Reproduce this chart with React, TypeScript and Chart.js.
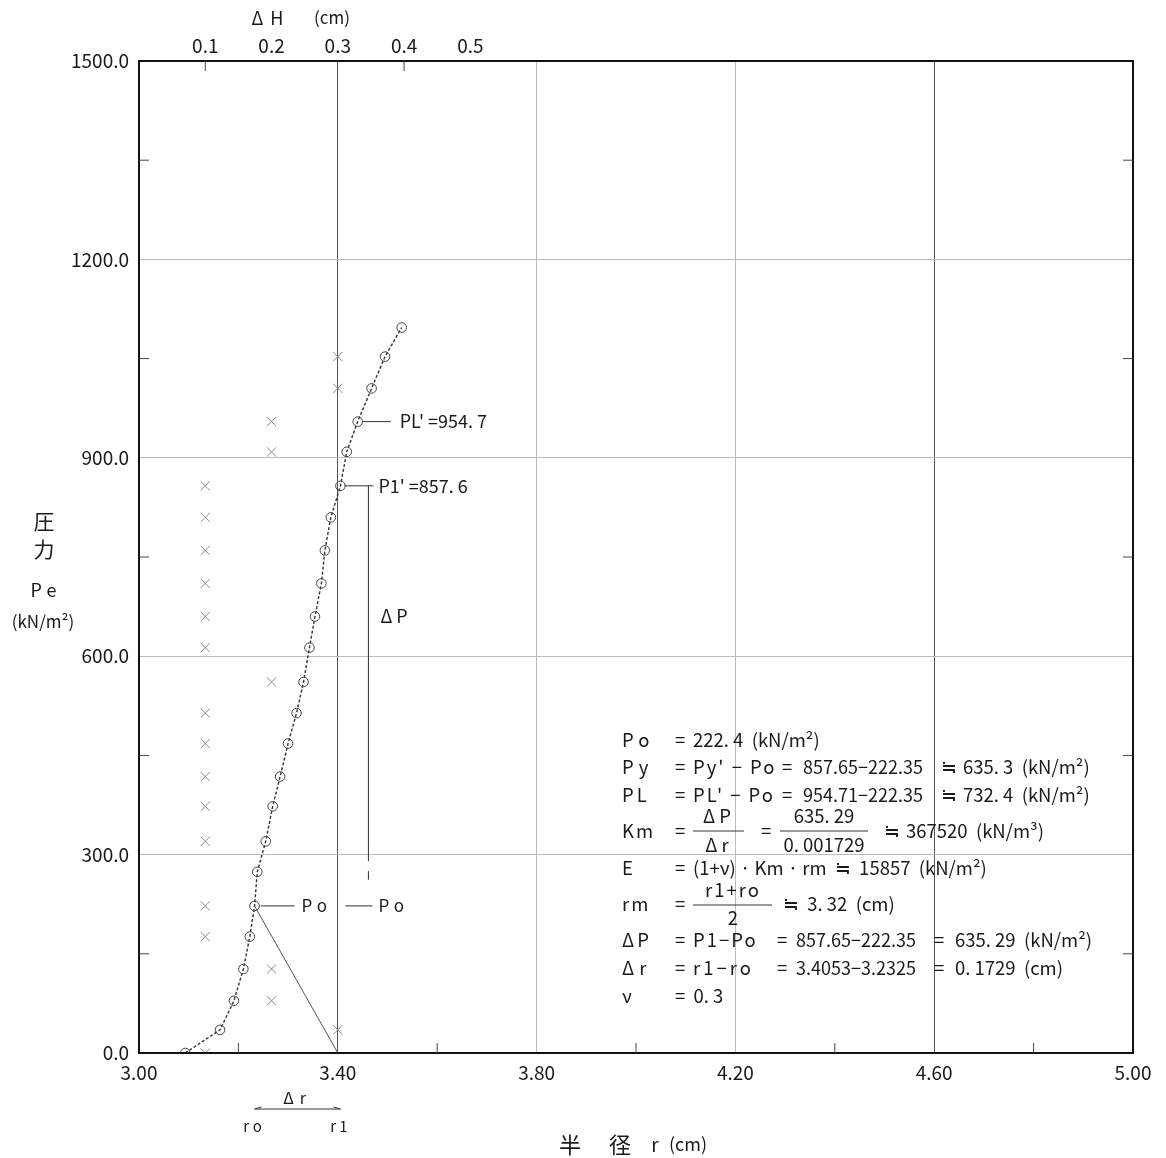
import { useEffect, useRef } from "react";
import Chart from "chart.js/auto";

// ---- data ----
const radiusR = [3.093, 3.163, 3.191, 3.21, 3.223, 3.2325, 3.238, 3.255, 3.269, 3.284, 3.3, 3.317, 3.331, 3.343, 3.354, 3.367, 3.374, 3.386, 3.4053, 3.418, 3.44, 3.468, 3.495, 3.5285];
const pressureP = [0, 35, 79, 127, 176, 222.4, 274, 320, 373, 418, 468, 514, 561, 613, 660, 710, 760, 810, 857.6, 909, 954.7, 1005, 1053, 1097];
const creepDH = [0.1, 0.3, 0.2, 0.2, 0.1, 0.1, 0.1, 0.1, 0.1, 0.1, 0.1, 0.2, 0.1, 0.1, 0.1, 0.1, 0.1, 0.1, 0.2, 0.2, 0.3, 0.3];
const creepP = [0, 35, 79, 127, 176, 222.4, 320, 373, 418, 468, 514, 561, 613, 660, 710, 760, 810, 857.6, 909, 954.7, 1005, 1053];
const topTickValues = [0.1, 0.2, 0.3, 0.4, 0.5];
const yMinorTicks = [150, 450, 750, 1050, 1350];
const xMinorTicks = [3.2, 3.6, 4.0, 4.4, 4.8];
const topMinorTicks = [0.1, 0.4];
const PO = 222.4;
const P1 = 857.6;
const PL = 954.7;
const R0 = 3.2325;
const R1 = 3.4053;
const R_TAIL = 3.4;
const R_PL = 3.44;

const FF = '"Noto Sans CJK JP", "Noto Sans", sans-serif';

function line(ctx: CanvasRenderingContext2D, x1: number, y1: number, x2: number, y2: number) {
  ctx.beginPath();
  ctx.moveTo(x1, y1);
  ctx.lineTo(x2, y2);
  ctx.stroke();
}

function txt(ctx: CanvasRenderingContext2D, s: string, x: number, y: number, size = 18, align: CanvasTextAlign = "left", spacing = "0px") {
  ctx.font = `${size}px ${FF}`;
  ctx.textAlign = align;
  ctx.textBaseline = "middle";
  (ctx as any).letterSpacing = spacing;
  ctx.fillText(s, x, y);
  (ctx as any).letterSpacing = "0px";
}

const overlay = {
  id: "overlay",
  afterDraw(chart: any) {
    const { ctx, chartArea: a, scales } = chart;
    const px = (v: number) => scales.x.getPixelForValue(v);
    const py = (v: number) => scales.y.getPixelForValue(v);
    const ph = (v: number) => scales.x2.getPixelForValue(v);
    ctx.save();
    // frame
    ctx.strokeStyle = "#111";
    ctx.lineWidth = 2;
    ctx.strokeRect(a.left, a.top, a.right - a.left, a.bottom - a.top);
    // minor ticks
    ctx.lineWidth = 1;
    ctx.strokeStyle = "#444";
    for (const v of yMinorTicks) {
      line(ctx, a.left, py(v), a.left + 10, py(v));
      line(ctx, a.right - 10, py(v), a.right, py(v));
    }
    for (const v of xMinorTicks) line(ctx, px(v), a.bottom, px(v), a.bottom - 10);
    for (const v of topMinorTicks) line(ctx, ph(v), a.top, ph(v), a.top + 10);

    ctx.fillStyle = "#1a1a1a";
    ctx.strokeStyle = "#333";
    // annotations on the curve
    const yPL = py(PL), yP1 = py(P1), yPo = py(PO);
    line(ctx, px(R_PL) + 5, yPL, px(R_PL) + 33, yPL);
    txt(ctx, "PL' =954. 7", px(R_PL) + 42, yPL, 18, "left");
    const xdp = px(R1) + 28;
    line(ctx, px(R1) + 4, yP1, xdp + 5, yP1);
    txt(ctx, "P1' =857. 6", xdp + 10, yP1, 18, "left");
    line(ctx, xdp, yP1, xdp, py(290));
    line(ctx, xdp, py(275), xdp, py(262));
    txt(ctx, "ΔP", xdp + 12, py(600) - 40, 18, "left", "4px");
    line(ctx, px(R0) + 6, yPo, px(R0) + 40, yPo);
    txt(ctx, "Po", px(R0) + 47, yPo, 17, "left", "5px");
    line(ctx, px(R1) + 5, yPo, xdp + 4, yPo);
    txt(ctx, "Po", xdp + 10, yPo, 17, "left", "5px");

    // top axis title
    txt(ctx, "ΔH", 271, 18, 18, "center", "7px");
    txt(ctx, "(cm)", 332, 18, 17, "center");
    // y axis title
    txt(ctx, "圧", 44, 521, 21, "center");
    txt(ctx, "力", 44, 549, 21, "center");
    txt(ctx, "Pe", 46, 590, 18, "center", "5px");
    txt(ctx, "(kN/m²)", 43, 622, 17, "center");
    // x axis title and Δr marker
    txt(ctx, "半", 570, 1145, 22, "center");
    txt(ctx, "径", 620, 1145, 22, "center");
    txt(ctx, "r", 655, 1145, 19, "center");
    txt(ctx, "(cm)", 688, 1144, 18, "center");
    const ya = 1109;
    line(ctx, px(R0), ya, px(R1), ya);
    line(ctx, px(R0), ya, px(R0) + 7, ya - 2);
    line(ctx, px(R1), ya, px(R1) - 7, ya - 2);
    txt(ctx, "Δr", (px(R0) + px(R1)) / 2, 1098, 16, "center", "6px");
    txt(ctx, "ro", px(R0), 1126, 15, "center", "4px");
    txt(ctx, "r1", px(R1), 1126, 15, "center", "3px");

    // formula block
    const c1 = 622, c2 = 675, c3 = 693;
    const S = 18.5;
    const N = 18;
    txt(ctx, "Po", c1, 740, S, "left", "5px");
    txt(ctx, "=", c2, 740, S, "left");
    txt(ctx, "222. 4  (kN/m²)", c3, 740, S);
    txt(ctx, "Py", c1, 767, S, "left", "5px");
    txt(ctx, "=", c2, 767, S);
    txt(ctx, "Py' − Po", c3, 767, S, "left", "2px");
    txt(ctx, "=", 782, 767, S);
    txt(ctx, "857.65−222.35", 803, 767, N);
    txt(ctx, "≒", 941, 767, S);
    txt(ctx, "635. 3  (kN/m²)", 963, 767, S);
    txt(ctx, "PL", c1, 795, S, "left", "3px");
    txt(ctx, "=", c2, 795, S);
    txt(ctx, "PL' − Po", c3, 795, S, "left", "2px");
    txt(ctx, "=", 782, 795, S);
    txt(ctx, "954.71−222.35", 803, 795, N);
    txt(ctx, "≒", 941, 795, S);
    txt(ctx, "732. 4  (kN/m²)", 963, 795, S);
    // Km
    txt(ctx, "Km", c1, 831, S, "left", "2px");
    txt(ctx, "=", c2, 831, S);
    txt(ctx, "ΔP", 719, 816, S, "center", "4px");
    line(ctx, 693, 831, 744, 831);
    txt(ctx, "Δr", 719, 845, S, "center", "4px");
    txt(ctx, "=", 761, 831, S);
    txt(ctx, "635. 29", 824, 816, S, "center");
    line(ctx, 780, 831, 868, 831);
    txt(ctx, "0. 001729", 824, 845, S, "center");
    txt(ctx, "≒", 884, 831, S);
    txt(ctx, "367520  (kN/m³)", 906, 831, S);
    // E
    txt(ctx, "E", c1, 868, S);
    txt(ctx, "=", c2, 868, S);
    txt(ctx, "(1+ν) · Km · rm  ≒  15857  (kN/m²)", c3, 868, S);
    // rm
    txt(ctx, "rm", c1, 904, S, "left", "2px");
    txt(ctx, "=", c2, 904, S);
    txt(ctx, "r1+ro", 733, 890, S, "center", "2px");
    line(ctx, 693, 905, 772, 905);
    txt(ctx, "2", 733, 918, S, "center");
    txt(ctx, "≒  3. 32  (cm)", 783, 904, S);
    // ΔP
    txt(ctx, "ΔP", c1, 940, S, "left", "3px");
    txt(ctx, "=", c2, 940, S);
    txt(ctx, "P1−Po", c3, 940, S, "left", "2px");
    txt(ctx, "=", 777, 940, S);
    txt(ctx, "857.65−222.35", 796, 940, N);
    txt(ctx, "=", 934, 940, S);
    txt(ctx, "635. 29  (kN/m²)", 955, 940, S);
    // Δr
    txt(ctx, "Δr", c1, 968, S, "left", "5px");
    txt(ctx, "=", c2, 968, S);
    txt(ctx, "r1−ro", c3, 968, S, "left", "3px");
    txt(ctx, "=", 777, 968, S);
    txt(ctx, "3.4053−3.2325", 796, 968, N);
    txt(ctx, "=", 934, 968, S);
    txt(ctx, "0. 1729  (cm)", 955, 968, S);
    // ν
    txt(ctx, "ν", c1, 996, S);
    txt(ctx, "=  0. 3", c2, 996, S);
    ctx.restore();
  },
};

export default function App() {
  const ref = useRef<HTMLCanvasElement | null>(null);
  useEffect(() => {
    document.body.style.margin = "0";
    const canvas = ref.current!;
    const curve = radiusR.map((r, i) => ({ x: r, y: pressureP[i] }));
    const creep = creepDH.map((d, i) => ({ x: d, y: creepP[i] }));
    const tail = [
      { x: R0, y: PO },
      { x: R_TAIL, y: 0 },
    ];
    const chart = new Chart(canvas, {
      type: "scatter",
      data: {
        datasets: [
          {
            data: tail,
            showLine: true,
            xAxisID: "x",
            borderColor: "#555",
            borderWidth: 1,
            pointRadius: 0,
          },
          {
            data: creep,
            xAxisID: "x2",
            showLine: false,
            pointStyle: "crossRot",
            pointRadius: 6.5,
            borderColor: "#8a8a8a",
            borderWidth: 1,
          },
          {
            data: curve,
            xAxisID: "x",
            showLine: true,
            borderColor: "#333",
            borderWidth: 1.4,
            borderDash: [3, 2],
            pointStyle: "circle",
            pointRadius: 4.8,
            pointBackgroundColor: "rgba(255,255,255,0)",
            pointBorderColor: "#444",
            pointBorderWidth: 1,
          },
        ],
      },
      options: {
        animation: false,
        responsive: false,
        devicePixelRatio: 1,
        layout: { padding: { left: 0, right: 33, top: 0, bottom: 0 } },
        plugins: { legend: { display: false }, tooltip: { enabled: false } },
        scales: {
          x: {
            type: "linear",
            position: "bottom",
            min: 3,
            max: 5,
            afterFit: (s: any) => {
              s.height = 105;
            },
            ticks: {
              stepSize: 0.4,
              callback: (v: any) => Number(v).toFixed(2),
              font: { size: 19, family: FF },
              color: "#1a1a1a",
              padding: 8,
              maxRotation: 0,
            },
            grid: {
              drawTicks: false,
              color: (c: any) => {
                const v = c.tick ? c.tick.value : 0;
                return Math.abs(v - 3.4) < 1e-6 || Math.abs(v - 4.6) < 1e-6 ? "#555" : "#bbb";
              },
              lineWidth: 1,
            },
            border: { display: false },
          },
          x2: {
            type: "linear",
            position: "top",
            min: 0,
            max: 1.5,
            afterFit: (s: any) => {
              s.height = 61;
            },
            afterBuildTicks: (s: any) => {
              s.ticks = topTickValues.map((v) => ({ value: v }));
            },
            ticks: {
              callback: (v: any) => Number(v).toFixed(1),
              font: { size: 19, family: FF },
              color: "#1a1a1a",
              padding: 4,
              maxRotation: 0,
            },
            grid: { display: false, drawTicks: false },
            border: { display: false },
          },
          y: {
            type: "linear",
            min: 0,
            max: 1500,
            afterFit: (s: any) => {
              s.width = 139;
            },
            ticks: {
              stepSize: 300,
              callback: (v: any) => Number(v).toFixed(1),
              font: { size: 19, family: FF },
              color: "#1a1a1a",
              padding: 10,
            },
            grid: { drawTicks: false, color: "#bbb", lineWidth: 1 },
            border: { display: false },
          },
        },
      },
      plugins: [overlay],
    } as any);
    return () => chart.destroy();
  }, []);
  return (
    <div style={{ position: "absolute", left: 0, top: 0, width: 1166, height: 1158, background: "#fff" }}>
      <canvas ref={ref} width={1166} height={1158} />
    </div>
  );
}
